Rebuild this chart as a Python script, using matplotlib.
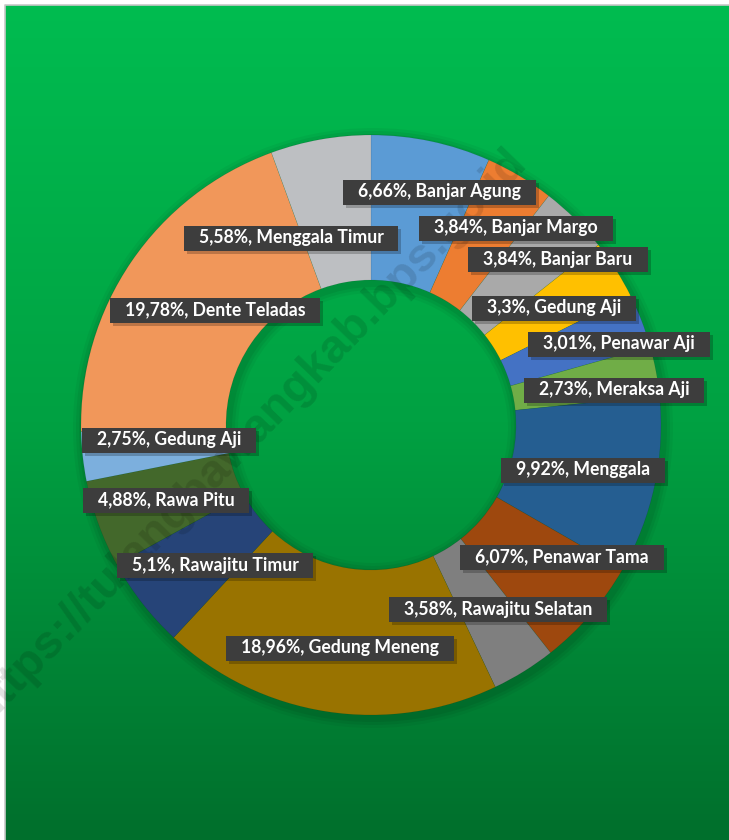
import matplotlib
matplotlib.use('Agg')
import matplotlib.pyplot as plt
import numpy as np
from matplotlib.patches import Rectangle
from matplotlib.colors import LinearSegmentedColormap

# ---------------- data ----------------
categories = ['Banjar Agung', 'Banjar Margo', 'Banjar Baru', 'Gedung Aji',
              'Penawar Aji', 'Meraksa Aji', 'Menggala', 'Penawar Tama',
              'Rawajitu Selatan', 'Gedung Meneng', 'Rawajitu Timur',
              'Rawa Pitu', 'Gedung Aji', 'Dente Teladas', 'Menggala Timur']
values = [6.66, 3.84, 3.84, 3.3, 3.01, 2.73, 9.92, 6.07, 3.58, 18.96,
          5.1, 4.88, 2.75, 19.78, 5.58]
colors = ['#5B9BD5', '#ED7D31', '#A9A9A9', '#FFC000', '#4472C4', '#70AD47',
          '#255E91', '#9E480E', '#7F7F7F', '#997300', '#264478', '#43682B',
          '#7CAFDD', '#F1975A', '#BDBFC2']
# label box centres (pixel coordinates, y from top)
label_x = [440, 516, 558, 554, 619, 614, 583, 562, 498, 340, 215, 166, 169, 215, 291]
label_y = [192, 228, 259, 308, 344, 390, 470, 557, 609, 648, 565, 500, 440, 310, 238]
watermark = 'https://tulangbawangkab.bps.go.id'

W, H = 729, 840
fig = plt.figure(figsize=(W / 100, H / 100), dpi=100)
fig.patch.set_facecolor('white')

# background gradient
bg = fig.add_axes([0, 0, 1, 1])
bg.set_xlim(0, W)
bg.set_ylim(0, H)
bg.axis('off')
cmap = LinearSegmentedColormap.from_list('g', [(0, '#00BC50'), (0.5, '#00A142'), (1, '#006F2C')])
grad = np.linspace(0, 1, 256).reshape(-1, 1)
bg.imshow(grad, cmap=cmap, aspect='auto', extent=(5, W, 0, H - 5), origin='upper')
bg.plot([5, 5, W], [0, H - 5, H - 5], color='#C8C8C8', lw=1.2)

ax = fig.add_axes([0, 0, 1, 1])
ax.patch.set_alpha(0)
cx, cy = 371, H - 425
R, r = 290, 145

# soft shadow of donut
for k, a in zip([10, 7, 4], [0.04, 0.05, 0.06]):
    ax.pie([1], colors=['black'], radius=R + k, center=(cx + 2, cy - 3),
           wedgeprops=dict(width=r + 2 * k, linewidth=0, alpha=a))

ax.pie(values, colors=colors, startangle=90, counterclock=False,
       radius=R, center=(cx, cy),
       wedgeprops=dict(width=R - r, linewidth=0.3, edgecolor=(0, 0, 0, 0.15)))

ax.set_xlim(0, W)
ax.set_ylim(0, H)
ax.set_aspect('equal')
ax.axis('off')

# watermark
ax.text(528, H - 163, watermark, rotation=46, rotation_mode='anchor',
        ha='right', va='baseline', fontsize=34, fontweight='bold',
        family='Liberation Sans', color='black', alpha=0.12, zorder=4)

texts = []
for name, v, x, y in zip(categories, values, label_x, label_y):
    lab = f"{v:g}".replace('.', ',') + '%, ' + name
    t = ax.text(x, H - y, lab, ha='center', va='center', color='white',
                fontweight='bold', fontsize=12.7, family='Lato', zorder=7)
    texts.append(t)

fig.canvas.draw()
renderer = fig.canvas.get_renderer()
inv = ax.transData.inverted()
padx = 15
for t, x, y in zip(texts, label_x, label_y):
    bb = t.get_window_extent(renderer)
    (x0, _), (x1, _) = inv.transform([[bb.x0, bb.y0], [bb.x1, bb.y1]])
    w = (x1 - x0) + 2 * padx
    h = 25
    ax.add_patch(Rectangle((x - w / 2 + 3, H - y - h / 2 - 3), w, h,
                           facecolor='black', alpha=0.22, linewidth=0, zorder=5))
    ax.add_patch(Rectangle((x - w / 2, H - y - h / 2), w, h,
                           facecolor='#3D3D3D', linewidth=0, zorder=6))

fig.savefig('out.png', dpi=100)
